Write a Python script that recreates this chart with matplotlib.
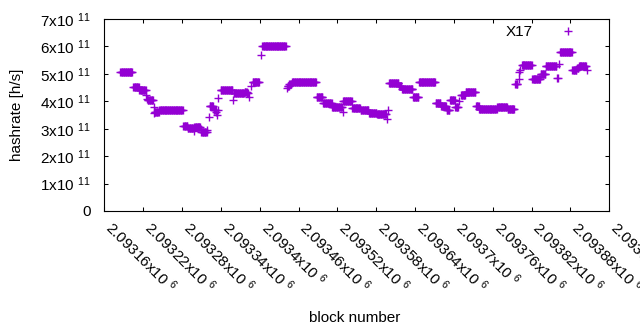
import numpy as np
import matplotlib
matplotlib.use("Agg")
import matplotlib.pyplot as plt
from matplotlib.ticker import FuncFormatter

plt.rcParams['font.family'] = ['Liberation Sans', 'DejaVu Sans']
plt.rcParams['mathtext.fontset'] = 'custom'
plt.rcParams['mathtext.rm'] = 'Liberation Sans'
plt.rcParams['mathtext.default'] = 'regular'

# Readings from the chart, run-length style: first block, last block, hashrate (x1e11 h/s)
seg_first = [2093185, 2093205, 2093214, 2093225, 2093226, 2093227, 2093236, 2093237, 2093238, 2093245,
             2093282, 2093289, 2093298, 2093299, 2093309, 2093310, 2093319, 2093321, 2093323, 2093329,
             2093332, 2093333, 2093334, 2093335, 2093336, 2093340, 2093359, 2093360, 2093377, 2093381,
             2093384, 2093386, 2093389, 2093402, 2093404, 2093442, 2093443, 2093446, 2093450, 2093488,
             2093498, 2093512, 2093528, 2093529, 2093543, 2093556, 2093569, 2093581, 2093596, 2093598,
             2093600, 2093615, 2093620, 2093637, 2093646, 2093672, 2093680, 2093689, 2093694, 2093702,
             2093708, 2093711, 2093718, 2093734, 2093739, 2093767, 2093783, 2093795, 2093800, 2093801,
             2093802, 2093805, 2093821, 2093834, 2093842, 2093859, 2093862, 2093864, 2093883, 2093890,
             2093893, 2093905]
seg_last = [2093203, 2093213, 2093224, 2093225, 2093226, 2093235, 2093236, 2093237, 2093244, 2093281,
            2093288, 2093297, 2093298, 2093308, 2093309, 2093318, 2093319, 2093321, 2093328, 2093331,
            2093332, 2093333, 2093334, 2093335, 2093336, 2093358, 2093359, 2093376, 2093380, 2093382,
            2093384, 2093386, 2093399, 2093402, 2093440, 2093442, 2093445, 2093449, 2093487, 2093497,
            2093511, 2093527, 2093528, 2093542, 2093555, 2093568, 2093580, 2093595, 2093596, 2093598,
            2093614, 2093619, 2093636, 2093645, 2093671, 2093679, 2093688, 2093693, 2093701, 2093706,
            2093708, 2093717, 2093733, 2093738, 2093766, 2093782, 2093793, 2093798, 2093800, 2093801,
            2093802, 2093820, 2093833, 2093841, 2093858, 2093860, 2093862, 2093882, 2093889, 2093892,
            2093904, 2093905]
seg_rate = [5.06, 4.51, 4.40, 4.22, 4.10, 4.03, 3.78, 3.56, 3.62, 3.67,
            3.11, 3.01, 2.92, 3.06, 2.98, 2.88, 2.97, 3.42, 3.83, 3.68,
            3.62, 3.68, 3.50, 3.68, 4.11, 4.41, 4.05, 4.29, 4.35, 4.29,
            4.16, 4.55, 4.72, 5.67, 6.00, 4.48, 4.55, 4.63, 4.69, 4.15,
            3.95, 3.80, 3.60, 4.01, 3.74, 3.67, 3.59, 3.54, 3.36, 3.70,
            4.66, 4.56, 4.45, 4.15, 4.72, 3.95, 3.82, 3.70, 4.05, 3.78,
            4.00, 4.22, 4.33, 3.84, 3.72, 3.78, 3.71, 4.62, 4.83, 5.08,
            5.14, 5.31, 4.82, 5.01, 5.27, 4.84, 5.37, 5.81, 5.13, 5.20,
            5.29, 5.13]

x_ticks = list(range(2093160, 2093941, 60))
y_ticks = [0, 1e11, 2e11, 3e11, 4e11, 5e11, 6e11, 7e11]
series_label = "X17"

blocks = np.concatenate([np.arange(a, b + 1) for a, b in zip(seg_first, seg_last)])
rates = np.concatenate([np.full(b - a + 1, r * 1e11) for a, b, r in zip(seg_first, seg_last, seg_rate)])

fig = plt.figure(figsize=(6.4, 3.3), dpi=100)
ax = fig.add_axes([104.3 / 640, 119 / 330, 505 / 640, 192 / 330])
color = '#9400d3'
ax.plot(blocks, rates, linestyle='none', marker='+', markersize=5.3, markeredgewidth=1.0,
        color=color, label=series_label)

ax.set_xlim(2093160, 2093940)
ax.set_ylim(0, 7e11)
ax.set_xticks(x_ticks)
ax.set_yticks(y_ticks)


def xfmt(v, pos):
    return f"{v / 1e6:g}x10 $^{{6}}$"


def yfmt(v, pos):
    if v == 0:
        return "0"
    return f"{v / 1e11:g}x10 $^{{11}}$"


ax.xaxis.set_major_formatter(FuncFormatter(xfmt))
ax.yaxis.set_major_formatter(FuncFormatter(yfmt))

for s in ax.spines.values():
    s.set_linewidth(0.8)
ax.tick_params(direction='in', length=3.2, width=0.75, top=True, right=True, labelsize=11,
               colors='black')
ax.tick_params(axis='y', pad=9.6)
ax.tick_params(axis='x', pad=13.2)
for lab in ax.get_xticklabels():
    lab.set_rotation(-45)
    lab.set_ha('left')
    lab.set_va('baseline')
    lab.set_rotation_mode('anchor')

ax.set_ylabel('hashrate [h/s]', fontsize=11)
ax.yaxis.set_label_coords((24.5 - 104.3) / 505, 0.5)
ax.set_xlabel('block number', fontsize=11, va='baseline')
ax.xaxis.set_label_coords((354.2 - 104.3) / 505, (211 - 321.7) / 192)

ax.legend(loc='center right', bbox_to_anchor=(583 / 640, 1 - 32 / 330), bbox_transform=fig.transFigure,
          frameon=False, markerfirst=False, numpoints=1, handlelength=2, handletextpad=1.29,
          borderpad=0, borderaxespad=0, fontsize=11)

fig.savefig('out.png', dpi=100)
